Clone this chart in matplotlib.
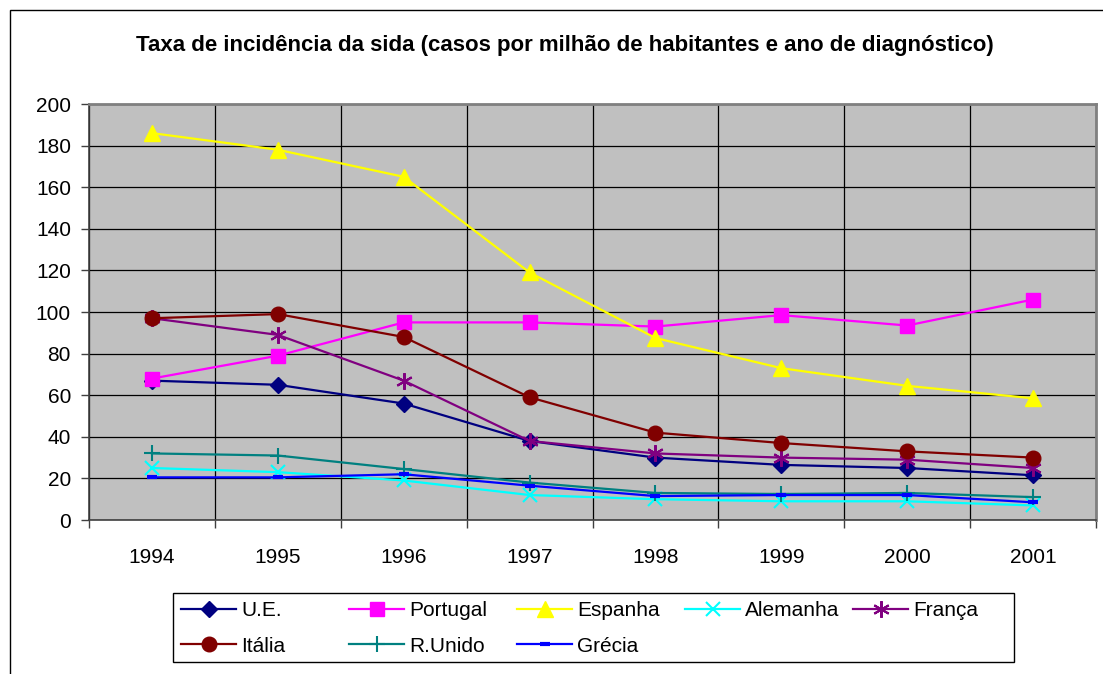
import numpy as np
import matplotlib
matplotlib.use("Agg")
import matplotlib.pyplot as plt
from matplotlib.patches import Rectangle

plt.rcParams["font.family"] = ["Liberation Sans", "DejaVu Sans"]

# dados (casos por milhão de habitantes)
anos = ["1994", "1995", "1996", "1997", "1998", "1999", "2000", "2001"]
ue = [67, 65, 56, 38, 30, 26.5, 25, 21.5]
portugal = [68, 79, 95, 95, 93, 98.5, 93.5, 106]
espanha = [186, 178, 165, 119, 87.5, 73, 64.5, 58.5]
alemanha = [25, 23, 19, 12, 10, 9, 9, 7]
franca = [97, 89, 67, 38, 32, 30, 29, 25]
italia = [97, 99, 88, 59, 42, 37, 33, 30]
r_unido = [32, 31, 24.5, 18, 13, 12.5, 13, 11]
grecia = [20.5, 20.5, 22, 16.5, 11.5, 12, 12, 8.5]

series = [
    ("U.E.", ue, "#000080", "D", 8.5),
    ("Portugal", portugal, "#FF00FF", "s", 10),
    ("Espanha", espanha, "#FFFF00", "^", 11),
    ("Alemanha", alemanha, "#00FFFF", "x", 10),
    ("França", franca, "#800080", (6, 2, 0), 12),
    ("Itália", italia, "#800000", "o", 10.5),
    ("R.Unido", r_unido, "#008080", "+", 12),
    ("Grécia", grecia, "#0000FF", "_", 7),
]

W, H = 1103, 674
fig = plt.figure(figsize=(W / 100, H / 100), dpi=100)
fig.patch.set_facecolor("white")


def px(x, y):
    return x / W, 1 - y / H


# moldura exterior do gráfico (cortada à direita e em baixo)
fig.patches.append(Rectangle((10 / W, -0.1), 1.2, 1 - 10 / H + 0.1,
                             transform=fig.transFigure, fill=False,
                             edgecolor="black", linewidth=1.0))

ax = fig.add_axes([89 / W, 1 - 520 / H, (1096 - 89) / W, (520 - 104) / H])
ax.set_facecolor("#C0C0C0")

x = np.arange(len(anos))
lines = []
for i, (nome, vals, cor, mk, ms) in enumerate(series):
    kw = dict(color=cor, linewidth=1.6, marker=mk, markersize=ms,
              markerfacecolor=cor, markeredgecolor=cor, label=nome, zorder=3 + i)
    if mk in ("x", "+") or isinstance(mk, tuple):
        kw["markeredgewidth"] = 1.5
    if mk == "_":
        kw["markeredgewidth"] = 3
    ln, = ax.plot(x, vals, **kw)
    lines.append(ln)

ax.set_xlim(-0.5, len(anos) - 0.5)
ax.set_ylim(0, 200)
ax.set_yticks(np.arange(0, 201, 20))
ax.set_xticks(x)
ax.set_xticklabels(anos)
ax.set_xticks(np.arange(-0.5, len(anos), 1), minor=True)

ax.grid(True, axis="y", color="black", linewidth=0.9, zorder=1)
ax.grid(True, axis="x", which="minor", color="black", linewidth=0.9, zorder=1)
ax.set_axisbelow(True)

ax.tick_params(axis="y", direction="out", length=6, width=1, color="#404040",
               labelsize=15, pad=7)
ax.tick_params(axis="x", which="major", length=0, labelsize=15, pad=20)
ax.tick_params(axis="x", which="minor", direction="out", length=6, width=1,
               color="#404040")

for s in ("left", "bottom"):
    ax.spines[s].set_color("#404040")
    ax.spines[s].set_linewidth(1.2)
for s in ("top", "right"):
    ax.spines[s].set_color("#808080")
    ax.spines[s].set_linewidth(2)

fig.text(*px(565, 45),
         "Taxa de incidência da sida (casos por milhão de habitantes e ano de diagnóstico)",
         ha="center", va="center", fontsize=16, fontweight="bold")

# legenda estilo Excel: colunas de largura fixa, preenchida por linhas
fig.patches.append(Rectangle(px(173, 662), (1014 - 173) / W, (662 - 593) / H,
                             transform=fig.transFigure, fill=False,
                             edgecolor="black", linewidth=1.0))
for i, ln in enumerate(lines):
    col, row = i % 5, i // 5
    fig.legend([ln], [ln.get_label()], loc="center left",
               bbox_to_anchor=px(181 + col * 168, 611 + row * 35),
               frameon=False, fontsize=15, borderpad=0, borderaxespad=0,
               handlelength=2.65, handletextpad=0.25)

fig.savefig("out.png", dpi=100)
